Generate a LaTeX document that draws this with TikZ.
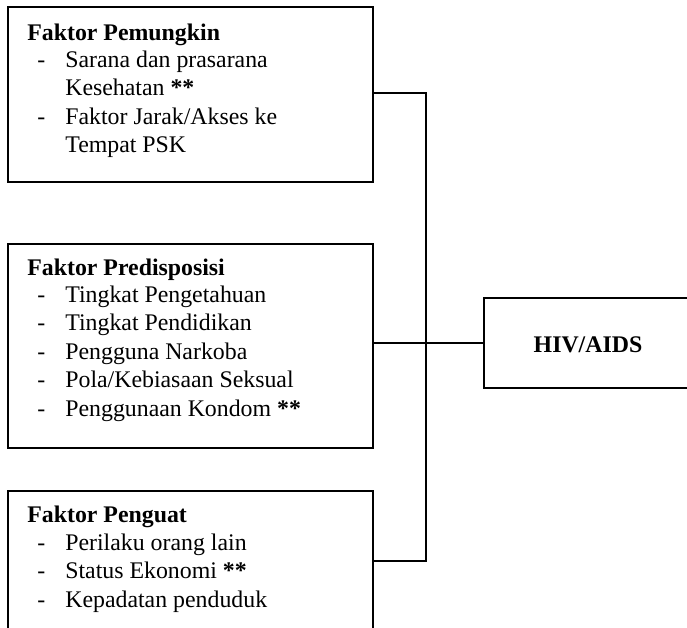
\documentclass[tikz,border=0pt]{standalone}
\usepackage{fontspec}
\setmainfont{Liberation Serif}
\begin{document}
\begin{tikzpicture}[x=0.6pt,y=-0.6pt,
  box/.style={draw,line width=1.2pt,minimum width=365*0.6pt,anchor=north west,inner sep=0pt},
  txt/.style={anchor=base west,inner sep=0pt,font=\fontsize{14.3}{17.1}\selectfont},
  ttl/.style={txt,font=\fontsize{14.3}{17.1}\selectfont\bfseries},
  link/.style={line width=1.2pt}]
\useasboundingbox (0,0) rectangle (687,627);
\begin{scope}
\clip (0,0) rectangle (687,627);
% boxes
\node[box,minimum height=175*0.6pt] (b1) at (7,6) {};
\node[box,minimum height=204*0.6pt] (b2) at (7,243) {};
\node[box,minimum height=145*0.6pt] (b3) at (7,490) {};
\node[box,minimum width=210*0.6pt,minimum height=90*0.6pt] (hiv) at (483,297) {};
\node[font=\fontsize{14.3}{17.1}\selectfont\bfseries,anchor=base,inner sep=0pt] (hivt) at (588,352) {HIV/AIDS};
% box 1
\node[ttl] (t1) at (27,40) {Faktor Pemungkin};
\node[txt] (d11) at (37,67) {-};
\node[txt] (i11) at (65,67) {Sarana dan prasarana};
\node[txt] (i12) at (65,95.5) {Kesehatan \textbf{**}};
\node[txt] (d13) at (37,124) {-};
\node[txt] (i13) at (65,124) {Faktor Jarak/Akses ke};
\node[txt] (i14) at (65,152.5) {Tempat PSK};
% box 2
\node[ttl] (t2) at (27,275) {Faktor Predisposisi};
\foreach \s [count=\i] in {Tingkat Pengetahuan,Tingkat Pendidikan,Pengguna Narkoba,Pola/Kebiasaan Seksual,Penggunaan Kondom \textbf{**}}{
  \node[txt] (d2\i) at (37,302+28.5*\i-28.5) {-};
  \node[txt] (i2\i) at (65,302+28.5*\i-28.5) {\s};
}
% box 3
\node[ttl] (t3) at (27,522) {Faktor Penguat};
\foreach \s [count=\i] in {Perilaku orang lain,Status Ekonomi \textbf{**},Kepadatan penduduk}{
  \node[txt] (d3\i) at (37,550+28.5*\i-28.5) {-};
  \node[txt] (i3\i) at (65,550+28.5*\i-28.5) {\s};
}
% connectors
\coordinate (j1) at (426,93);
\coordinate (j3) at (426,561);
\draw[link] (b1.east |- j1) -- (j1) -- (j3) -- (b3.east |- j3);
\draw[link] (b2.east |- hiv.west) -- (hiv.west);
\end{scope}
\end{tikzpicture}
\end{document}
